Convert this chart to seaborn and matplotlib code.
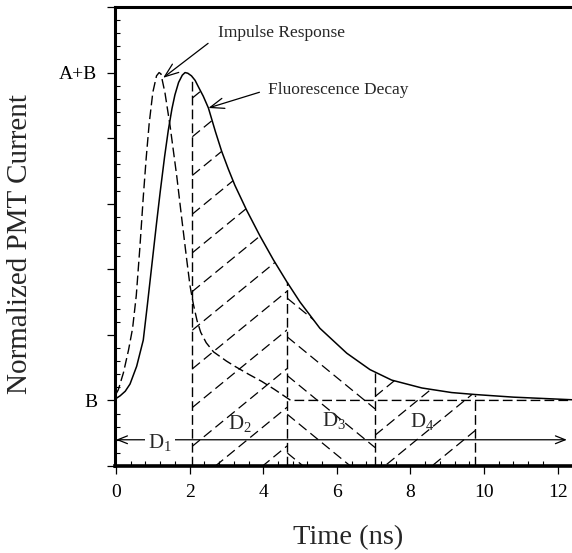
import numpy as np
import matplotlib
matplotlib.use("Agg")
import matplotlib.pyplot as plt
import seaborn as sns
import pandas as pd
from matplotlib.patches import Polygon
from matplotlib.ticker import MultipleLocator, FixedLocator, FuncFormatter

# ---------------- data ----------------
impulse_t = [0.0, 0.06, 0.2, 0.34, 0.45, 0.55, 0.65, 0.74, 0.82, 0.9, 1.0, 1.1, 1.17,
             1.22, 1.33, 1.47, 1.65, 1.78, 1.92, 2.01, 2.1, 2.2, 2.3, 2.45, 2.65, 3.0,
             3.23, 3.6, 3.96, 4.3, 4.59, 4.75, 12.4]
impulse_v = [1.1, 1.16, 1.42, 1.77, 2.1, 2.6, 3.35, 4.1, 4.7, 5.22, 5.7, 5.95, 6.0,
             5.98, 5.69, 5.18, 4.42, 3.8, 3.15, 2.75, 2.47, 2.22, 2.04, 1.88, 1.74, 1.6,
             1.52, 1.4, 1.29, 1.17, 1.06, 1.0, 1.0]

decay_t = [0.0, 0.11, 0.25, 0.38, 0.56, 0.74, 0.85, 0.97, 1.1, 1.2, 1.32, 1.42, 1.52,
           1.6, 1.7, 1.8, 1.875, 1.95, 2.05, 2.15, 2.24, 2.37, 2.51, 2.7, 2.87, 3.05,
           3.23, 3.55, 3.91, 4.27, 4.64, 5.0, 5.54, 6.27, 6.9, 7.49, 8.31, 9.12, 9.76,
           10.8, 12.4]
decay_v = [1.03, 1.07, 1.14, 1.25, 1.52, 1.92, 2.45, 3.05, 3.7, 4.18, 4.72, 5.12, 5.45,
           5.66, 5.85, 5.96, 6.0, 5.99, 5.95, 5.88, 5.78, 5.64, 5.46, 5.1, 4.8, 4.53,
           4.28, 3.9, 3.51, 3.15, 2.81, 2.5, 2.1, 1.72, 1.47, 1.31, 1.19, 1.12, 1.09,
           1.05, 1.01]

gate_edges = [2.07, 4.65, 7.04, 9.76]
gate_labels = [r"$\mathregular{D_1}$", r"$\mathregular{D_2}$",
               r"$\mathregular{D_3}$", r"$\mathregular{D_4}$"]
gate_label_x = [0.87, 3.04, 5.59, 7.99]
gate_label_y = [0.27, 0.56, 0.61, 0.59]
d1_level = 0.4
x_ticks = [0, 2, 4, 6, 8, 10, 12]
y_major = [0, 1, 2, 3, 4, 5, 6, 7]
y_tick_text = {1: "B", 6: "A+B"}

# ---------------- style ----------------
sns.set_style("ticks")
plt.rcParams["font.family"] = ["Liberation Serif", "DejaVu Serif"]
plt.rcParams["mathtext.fontset"] = "custom"
plt.rcParams["mathtext.rm"] = "Liberation Serif"

fig = plt.figure(figsize=(5.72, 5.53), dpi=100)
ax = fig.add_axes([115.3 / 572, 87 / 553, 456.7 / 572, 459 / 553])

df_imp = pd.DataFrame({"t": impulse_t, "v": impulse_v})
df_dec = pd.DataFrame({"t": decay_t, "v": decay_v})

dash = (0, (7, 3))
sns.lineplot(data=df_dec, x="t", y="v", ax=ax, color="black", lw=1.1,
             errorbar=None, sort=False)
sns.lineplot(data=df_imp, x="t", y="v", ax=ax, color="black", lw=1.0,
             linestyle=dash, errorbar=None, sort=False)

ax.set_xlim(-0.02, 12.39)
ax.set_ylim(0, 7)


def top(x):
    return float(np.interp(x, decay_t, decay_v))


# vertical gate boundaries
for xe in gate_edges:
    ax.plot([xe, xe], [0, top(xe)], color="black", lw=1.0, linestyle=dash)

# hatched gate regions (dashed hatch lines clipped to the area under the decay)
slope = 0.46
spacing = 0.59
regions = [(gate_edges[0], gate_edges[1], slope, 0.30),
           (gate_edges[1], gate_edges[2], -slope, 0.20),
           (gate_edges[2], gate_edges[3], slope, 0.47)]
dt = np.array(decay_t)
dv = np.array(decay_v)
for a, b, s, ph in regions:
    inside = (dt > a) & (dt < b)
    xs = [a] + list(dt[inside]) + [b]
    ys = [top(a)] + list(dv[inside]) + [top(b)]
    verts = [(a, 0)] + list(zip(xs, ys)) + [(b, 0)]
    poly = Polygon(verts, closed=True, facecolor="none", edgecolor="none")
    ax.add_patch(poly)
    for k in range(-25, 25):
        y0 = ph + k * spacing
        ln, = ax.plot([a, b], [y0, y0 + s * (b - a)], color="black", lw=0.9,
                      linestyle=(0, (8, 4)))
        ln.set_clip_path(poly)

# D1 double arrow
ax.annotate("", xy=(0.0, d1_level), xytext=(12.25, d1_level),
            arrowprops=dict(arrowstyle="<->, head_length=0.7, head_width=0.28",
                            lw=0.9, color="black", shrinkA=0, shrinkB=0))
for i, (lab, lx, ly) in enumerate(zip(gate_labels, gate_label_x, gate_label_y)):
    kw = {}
    if i == 0:
        kw["bbox"] = dict(facecolor="white", edgecolor="none", pad=2)
    ax.text(lx, ly, lab, fontsize=15, ha="left", va="baseline", **kw)

# annotations
ax.annotate("Impulse Response", xy=(1.28, 5.92), xytext=(2.77, 6.61),
            fontsize=12.5, ha="left", va="center",
            arrowprops=dict(arrowstyle="->, head_length=0.8, head_width=0.3",
                            lw=0.9, color="black", shrinkA=6, shrinkB=0,
                            relpos=(0, 0.3)))
ax.annotate("Fluorescence Decay", xy=(2.51, 5.46), xytext=(4.13, 5.74),
            fontsize=12.5, ha="left", va="center",
            arrowprops=dict(arrowstyle="->, head_length=0.8, head_width=0.3",
                            lw=0.9, color="black", shrinkA=4, shrinkB=0,
                            relpos=(0, 0.5)))

# axes styling
for side in ["left", "top", "bottom"]:
    ax.spines[side].set_linewidth(2.2)
    ax.spines[side].set_color("black")
ax.spines["bottom"].set_linewidth(2.6)
ax.spines["right"].set_visible(False)

ax.xaxis.set_major_locator(FixedLocator(x_ticks))
ax.xaxis.set_minor_locator(MultipleLocator(0.4))
ax.yaxis.set_major_locator(FixedLocator(y_major))
ax.yaxis.set_minor_locator(MultipleLocator(0.2))
ax.yaxis.set_major_formatter(FuncFormatter(lambda v, p: y_tick_text.get(int(round(v)), "")))
ax.tick_params(which="major", direction="out", length=5.8, width=0.9,
               labelsize=14, pad=7, colors="black")
ax.tick_params(which="minor", direction="in", length=3.4, width=0.8, colors="black")
ax.tick_params(top=False, right=False, which="both")

ax.set_xlabel("Time (ns)", fontsize=20.5)
ax.xaxis.set_label_coords(0.5095, -0.128)
ax.set_ylabel("Normalized PMT Current", fontsize=21)
ax.yaxis.set_label_coords(-0.18, 0.484)

fig.savefig("out.png", dpi=100)
